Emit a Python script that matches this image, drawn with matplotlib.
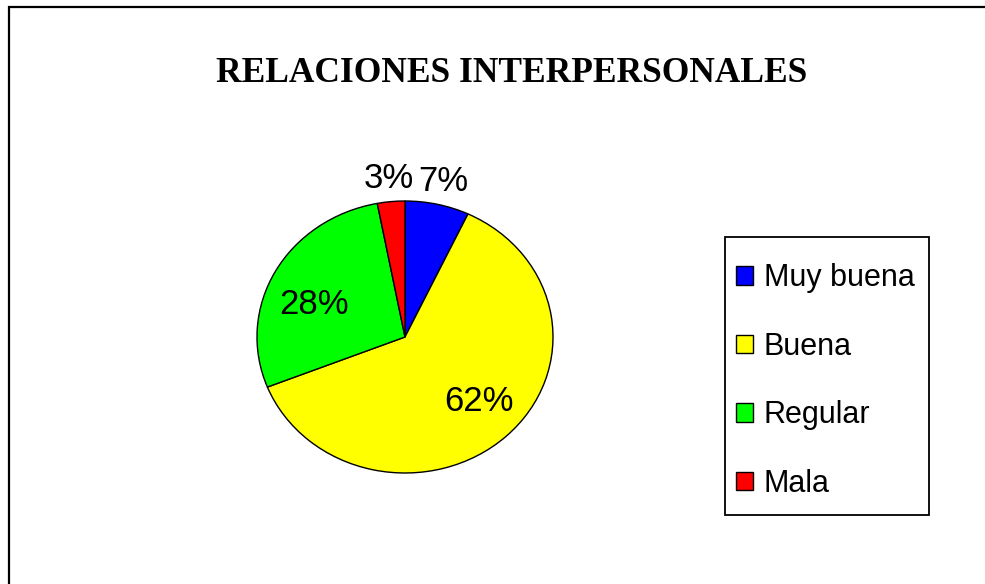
import matplotlib
matplotlib.use("Agg")
import numpy as np
from matplotlib import pyplot as plt
from matplotlib.patches import Rectangle

categorias = ["Muy buena", "Buena", "Regular", "Mala"]
porcentajes = [7, 62, 28, 3]
colores = ["#0000FF", "#FFFF00", "#00FF00", "#FF0000"]
titulo = "RELACIONES INTERPERSONALES"

W, H = 985, 584
fig = plt.figure(figsize=(W / 100, H / 100), dpi=100)

# outer chart frame (right and bottom edges fall outside the picture)
fig.patches.append(Rectangle((9 / W, -0.05), 1.0, 1 - 7 / H + 0.05,
                             transform=fig.transFigure, fill=False,
                             edgecolor="black", linewidth=1.6))

# pie axes sized so the pie is a slightly flattened ellipse
ax = fig.add_axes([257 / W, 1 - 473 / H, 296 / W, 272 / H])
wedges, texts, autotexts = ax.pie(
    porcentajes, colors=colores, startangle=90, counterclock=False,
    autopct="%1.0f%%", pctdistance=0.68,
    wedgeprops={"edgecolor": "black", "linewidth": 1.0},
    textprops={"fontsize": 25, "family": "Liberation Sans"})
ax.set_aspect("auto")
ax.set_xlim(-1, 1)
ax.set_ylim(-1, 1)

# small slices get their labels outside the pie
for w, t, p in zip(wedges, autotexts, porcentajes):
    mid = (w.theta1 + w.theta2) / 2
    if p < 10:
        ang = np.deg2rad(mid)
        t.set_position((1.18 * np.cos(ang), 1.17 * np.sin(ang)))
    else:
        ang = np.deg2rad(mid + 5)
        t.set_position((0.67 * np.cos(ang), 0.67 * np.sin(ang) - 0.028))

fig.text(512 / W, 1 - 73 / H, titulo, ha="center", va="center",
         fontsize=25.5, fontweight="bold", family="Liberation Serif")

# legend box drawn by hand, entries without frame
fig.patches.append(Rectangle((725 / W, 1 - 515 / H), 204 / W, 278 / H,
                             transform=fig.transFigure, fill=False,
                             edgecolor="black", linewidth=1.3))
leg = fig.legend(wedges, categorias, loc="center left",
                 bbox_to_anchor=(736 / W, 1 - 381 / H),
                 prop={"family": "Liberation Sans", "size": 22},
                 frameon=False,
                 handlelength=0.55, handleheight=0.55, handletextpad=0.35,
                 labelspacing=1.26, borderpad=0, borderaxespad=0)

fig.savefig("out.png", dpi=100)
